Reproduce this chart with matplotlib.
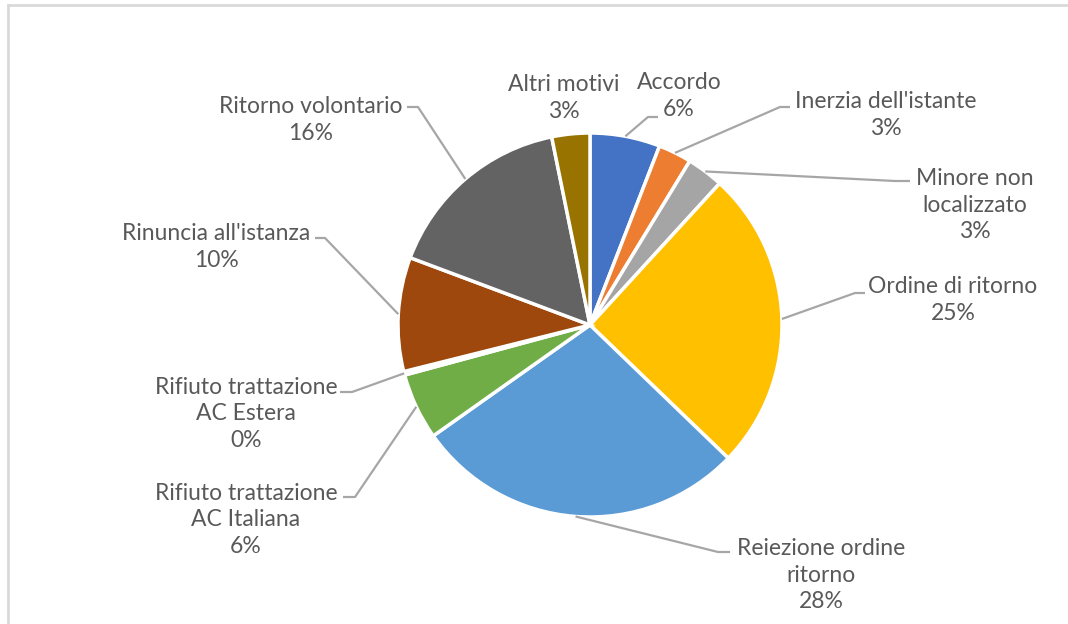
import numpy as np
import matplotlib
matplotlib.use("Agg")
import matplotlib.pyplot as plt

# categories of the pie, clockwise from 12 o'clock
categories = [
    "Accordo",
    "Inerzia dell'istante",
    "Minore non\nlocalizzato",
    "Ordine di ritorno",
    "Reiezione ordine\nritorno",
    "Rifiuto trattazione\nAC Italiana",
    "Rifiuto trattazione\nAC Estera",
    "Rinuncia all'istanza",
    "Ritorno volontario",
    "Altri motivi",
]
# share in percent
values = [5.9, 2.8, 3.1, 25.4, 28.0, 5.6, 0.3, 9.6, 16.1, 3.2]
colors = ["#4472C4", "#ED7D31", "#A5A5A5", "#FFC000", "#5B9BD5",
          "#70AD47", "#264478", "#9E480E", "#636363", "#997300"]

W, H = 1068, 624

# label centre and elbow of the leader line, in pixels (y down)
label_pos = [(679, 96), (886, 115), (975, 205), (953, 300), (821, 575),
             (246, 520), (246, 414), (216, 247), (311, 120), (564, 98)]
elbows = [[(648, 117), (658, 117)],
          [(780, 107), (790, 107)],
          [(895, 181), (910, 181)],
          [(855, 293), (865, 293)],
          [(718, 552), (730, 552)],
          [(355, 497), (343, 497)],
          [(352, 392), (340, 392)],
          [(325, 238), (315, 238)],
          [(418, 107), (407, 107)],
          None]

cx, cy, r = 590, 325, 192


def py(y):
    return H - y


fig = plt.figure(figsize=(W / 100, H / 100), dpi=100)
ax = fig.add_axes([0, 0, 1, 1])

wedges, _ = ax.pie(values, colors=colors, startangle=90, counterclock=False,
                   center=(cx, py(cy)), radius=r, frame=True,
                   wedgeprops=dict(edgecolor="white", linewidth=2.5))
ax.set_xlim(0, W)
ax.set_ylim(0, H)
ax.set_aspect("equal")
ax.axis("off")

for w, name, val, pos, elb in zip(wedges, categories, values, label_pos, elbows):
    ax.text(pos[0], py(pos[1]), f"{name}\n{val:.0f}%", ha="center", va="center",
            multialignment="center", fontsize=16.5, color="#595959",
            family="Lato", linespacing=1.3)
    if elb is None:
        continue
    mid = np.deg2rad((w.theta1 + w.theta2) / 2)
    sx = cx + r * np.cos(mid)
    sy = py(cy) + r * np.sin(mid)
    xs = [sx] + [p[0] for p in elb]
    ys = [sy] + [py(p[1]) for p in elb]
    ax.plot(xs, ys, color="#A6A6A6", linewidth=1.6, solid_capstyle="butt")

# chart area border (only top and left visible in the crop)
ax.plot([8, 8], [0, py(5)], color="#D9D9D9", linewidth=2)
ax.plot([8, W], [py(5), py(5)], color="#D9D9D9", linewidth=2)

fig.savefig("out.png", dpi=100, facecolor="white")
